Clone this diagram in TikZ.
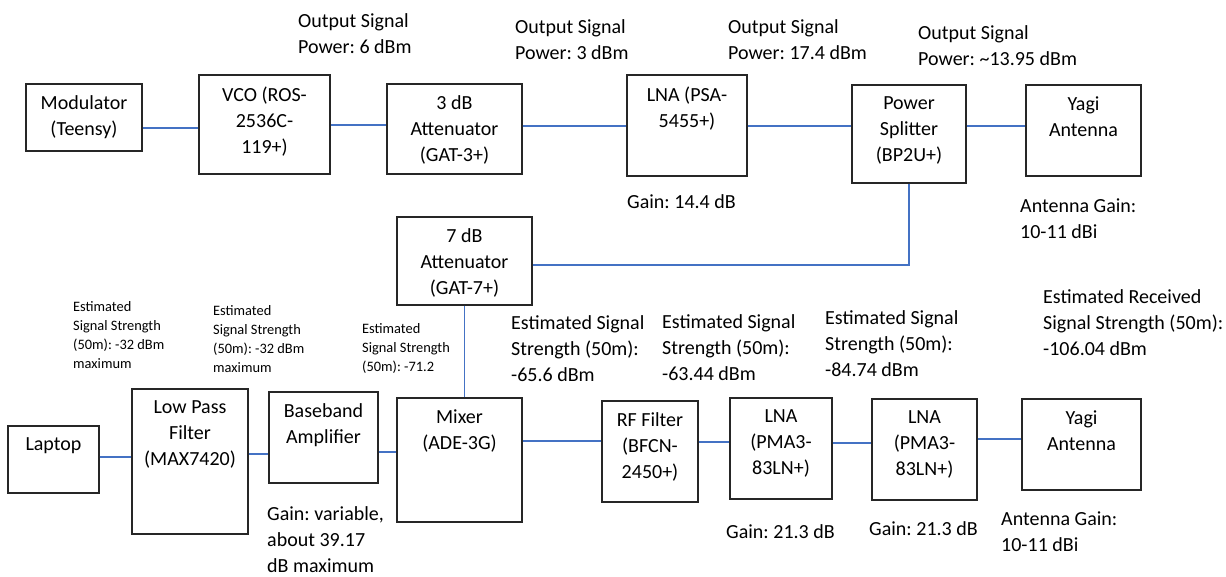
\documentclass[tikz,border=0pt]{standalone}
\usepackage{fontspec}
\setmainfont{Carlito}
\frenchspacing
\definecolor{wire}{HTML}{4472C4}
\begin{document}
\begin{tikzpicture}[x=1pt, y=-1pt,
      box/.style={draw=black!85, line width=1.3pt, inner sep=0pt},
      boxtxt/.style={anchor=north, align=center, inner sep=0pt, yshift=-12pt,
        font=\fontsize{20}{26}\selectfont},
      note/.style={anchor=north west, align=left, inner sep=0pt,
        font=\fontsize{20}{26}\selectfont},
      smallnote/.style={note, font=\fontsize{14.4}{19}\selectfont},
      link/.style={wire, line width=1.3pt}
    ]
    \useasboundingbox[fill=white] (0,0) rectangle (1226,576);

    % Transmit chain
    \node[box, minimum width=116pt, minimum height=67pt,
      label={[boxtxt]north:{Modulator\\(Teensy)}}] (mod) at (84,117.5) {};
    \node[box, minimum width=131pt, minimum height=99pt,
      label={[boxtxt]north:{VCO (ROS-\\2536C-\\119+)}}] (vco) at (264.5,124.5) {};
    \node[box, minimum width=135pt, minimum height=90pt,
      label={[boxtxt]north:{3 dB\\Attenuator\\(GAT-3+)}}] (att3) at (454.5,129) {};
    \node[box, minimum width=120pt, minimum height=101pt,
      label={[boxtxt]north:{LNA (PSA-\\5455+)}}] (lnatx) at (687,125.5) {};
    \node[box, minimum width=114pt, minimum height=98pt,
      label={[boxtxt]north:{Power\\Splitter\\(BP2U+)}}] (split) at (909,134) {};
    \node[box, minimum width=115pt, minimum height=91pt,
      label={[boxtxt]north:{Yagi\\Antenna}}] (yagitx) at (1083.5,130.5) {};

    \draw[link] (mod.east |- 0,128) -- (vco.west |- 0,128);
    \draw[link] (vco.east |- 0,125) -- (att3.west |- 0,125);
    \draw[link] (att3.east |- 0,126) -- (lnatx.west |- 0,126);
    \draw[link] (lnatx.east |- 0,126) -- (split.west |- 0,126);
    \draw[link] (split.east |- 0,126) -- (yagitx.west |- 0,126);

    \node[note] (p1) at (298,13) {Output Signal\\Power: 6 dBm};
    \node[note] (p2) at (515,19) {Output Signal\\Power: 3 dBm};
    \node[note] (p3) at (728,19) {Output Signal\\Power: 17.4 dBm};
    \node[note] (p4) at (918,25) {Output Signal\\Power: \textasciitilde13.95 dBm};
    \node[note] (g1) at (627,194) {Gain: 14.4 dB};
    \node[note] (a1) at (1020,199) {Antenna Gain:\\10-11 dBi};

    % LO branch
    \node[box, minimum width=135pt, minimum height=88pt,
      label={[boxtxt]north:{7 dB\\Attenuator\\(GAT-7+)}}] (att7) at (464.5,261) {};
    \draw[link] (split.south) |- (att7.east |- 0,265);

    % Receive chain
    \node[box, minimum width=91pt, minimum height=67pt,
      label={[boxtxt]north:{Laptop}}] (laptop) at (53.5,459.5) {};
    \node[box, minimum width=116pt, minimum height=145pt,
      label={[boxtxt]north:{Low Pass\\Filter\\(MAX7420)}}] (lpf) at (190,461.5) {};
    \node[box, minimum width=109pt, minimum height=91pt,
      label={[boxtxt]north:{Baseband\\Amplifier}}] (bba) at (323.5,437.5) {};
    \node[box, minimum width=125pt, minimum height=124pt,
      label={[boxtxt]north:{Mixer\\(ADE-3G)}}] (mix) at (459.5,460) {};
    \node[box, minimum width=96pt, minimum height=101pt,
      label={[boxtxt]north:{RF Filter\\(BFCN-\\2450+)}}] (rff) at (650,451.5) {};
    \node[box, minimum width=102pt, minimum height=101pt,
      label={[boxtxt]north:{LNA\\(PMA3-\\83LN+)}}] (lnarx1) at (781,448.5) {};
    \node[box, minimum width=105pt, minimum height=101pt,
      label={[boxtxt]north:{LNA\\(PMA3-\\83LN+)}}] (lnarx2) at (924.5,449.5) {};
    \node[box, minimum width=119pt, minimum height=91pt,
      label={[boxtxt]north:{Yagi\\Antenna}}] (yagirx) at (1081.5,444.5) {};

    \draw[link] (att7.south) -- (att7.south |- mix.north);
    \draw[link] (laptop.east |- 0,457) -- (lpf.west |- 0,457);
    \draw[link] (lpf.east |- 0,454) -- (bba.west |- 0,454);
    \draw[link] (bba.east |- 0,452) -- (mix.west |- 0,452);
    \draw[link] (mix.east |- 0,441) -- (rff.west |- 0,441);
    \draw[link] (rff.east |- 0,442) -- (lnarx1.west |- 0,442);
    \draw[link] (lnarx1.east |- 0,443) -- (lnarx2.west |- 0,443);
    \draw[link] (lnarx2.east |- 0,439) -- (yagirx.west |- 0,439);

    \node[smallnote] (s1) at (73,301)
      {Estimated\\Signal Strength\\(50m): -32 dBm\\maximum};
    \node[smallnote] (s2) at (213,305)
      {Estimated\\Signal Strength\\(50m): -32 dBm\\maximum};
    \node[smallnote] (s3) at (362,323)
      {Estimated\\Signal Strength\\(50m): -71.2};
    \node[note] (e1) at (511,315) {Estimated Signal\\Strength (50m):\\-65.6 dBm};
    \node[note] (e2) at (662,314) {Estimated Signal\\Strength (50m):\\-63.44 dBm};
    \node[note] (e3) at (825,310) {Estimated Signal\\Strength (50m):\\-84.74 dBm};
    \node[note] (e4) at (1043,289)
      {Estimated Received\\Signal Strength (50m):\\-106.04 dBm};
    \node[note] (g2) at (267,506) {Gain: variable,\\about 39.17\\dB maximum};
    \node[note] (g3) at (726,524) {Gain: 21.3 dB};
    \node[note] (g4) at (869,521) {Gain: 21.3 dB};
    \node[note] (a2) at (1001,512) {Antenna Gain:\\10-11 dBi};
\end{tikzpicture}
\end{document}
